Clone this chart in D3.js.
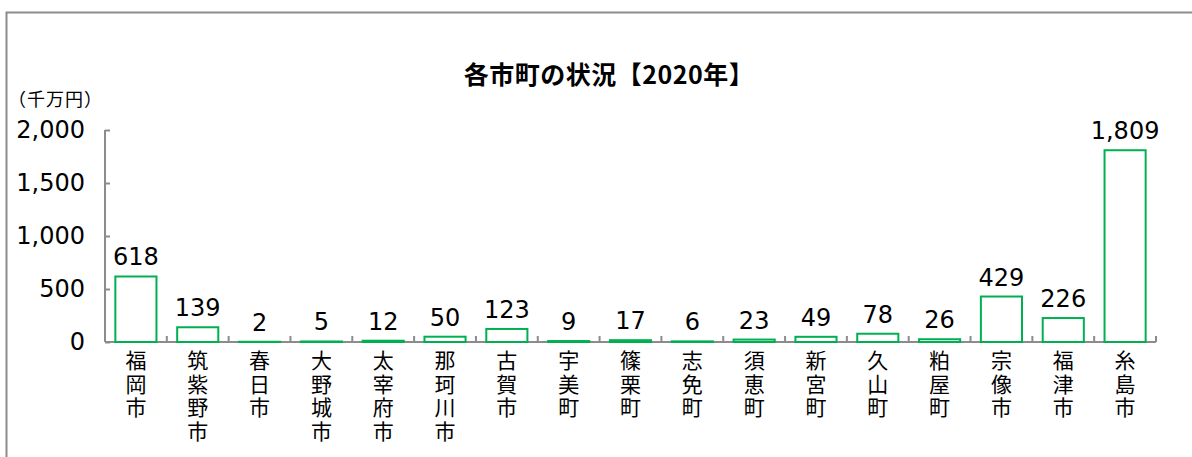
<!DOCTYPE html>
<html>
<head>
<meta charset="utf-8">
<script src="https://cdn.jsdelivr.net/npm/d3@7"></script>
<style>
    body { margin: 0; background: #fff; }
    svg text { font-family: "DejaVu Sans", "Noto Sans CJK JP", sans-serif; fill: #000; }
</style>
</head>
<body>
<div id="chart"></div>
<script>
// 各市町の状況 bar chart
const cities = ["福岡市", "筑紫野市", "春日市", "大野城市", "太宰府市", "那珂川市", "古賀市", "宇美町", "篠栗町",
    "志免町", "須恵町", "新宮町", "久山町", "粕屋町", "宗像市", "福津市", "糸島市"];
const values = [618, 139, 2, 5, 12, 50, 123, 9, 17, 6, 23, 49, 78, 26, 429, 226, 1809];
const yTicks = [0, 500, 1000, 1500, 2000];

const W = 1192, H = 457;
const margin = { top: 130, right: 36, bottom: 115, left: 105 };
const plotW = W - margin.left - margin.right;
const plotH = H - margin.top - margin.bottom;

const svg = d3.select("#chart").append("svg")
    .attr("width", W)
    .attr("height", H);

// outer frame (only top and left edges visible)
svg.append("path")
    .attr("d", `M6.5,${H} V12.5 H${W}`)
    .attr("fill", "none")
    .attr("stroke", "#8c8c8c")
    .attr("stroke-width", 2);

svg.append("text")
    .attr("x", 609)
    .attr("y", 84)
    .attr("text-anchor", "middle")
    .style("font-family", "'Noto Sans CJK JP', sans-serif")
    .style("font-weight", "bold")
    .style("font-size", "25px")
    .style("letter-spacing", "0.5px")
    .text("各市町の状況【2020年】");

svg.append("text")
    .attr("x", 8)
    .attr("y", 106)
    .style("font-family", "'Noto Sans CJK JP', sans-serif")
    .style("font-size", "18px")
    .style("letter-spacing", "1px")
    .text("（千万円）");

const g = svg.append("g").attr("transform", `translate(${margin.left},${margin.top})`);

const x = d3.scaleBand().domain(cities).range([0, plotW]).paddingInner(0.335).paddingOuter(0.1675);
const y = d3.scaleLinear().domain([0, 2000]).range([plotH, 0]);

// y axis, ticks pointing inward
const yAxis = g.append("g").call(d3.axisLeft(y).tickValues(yTicks).tickSize(-5).tickPadding(20)
    .tickFormat(d3.format(",")));
yAxis.selectAll("path, line").attr("stroke", "#8c8c8c").attr("stroke-width", 2);
yAxis.select(".domain").attr("d", `M0,${plotH}V0`);
yAxis.selectAll("text").style("font-size", "24px").attr("fill", "#000");

// x axis with ticks at category boundaries
g.append("line")
    .attr("x1", 0).attr("x2", plotW)
    .attr("y1", plotH).attr("y2", plotH)
    .attr("stroke", "#8c8c8c").attr("stroke-width", 2);
const step = x.step();
g.selectAll(".xtick")
    .data(d3.range(cities.length + 1))
    .enter().append("line")
    .attr("x1", i => i * step).attr("x2", i => i * step)
    .attr("y1", plotH).attr("y2", plotH - 6)
    .attr("stroke", "#8c8c8c").attr("stroke-width", 2);

// bars
g.selectAll(".bar")
    .data(values)
    .enter().append("rect")
    .attr("x", (d, i) => x(cities[i]))
    .attr("y", d => y(d))
    .attr("width", x.bandwidth())
    .attr("height", d => plotH - y(d))
    .attr("fill", "#fff")
    .attr("stroke", "#00b050")
    .attr("stroke-width", 2);

// value labels
g.selectAll(".val")
    .data(values)
    .enter().append("text")
    .attr("x", (d, i) => x(cities[i]) + x.bandwidth() / 2)
    .attr("y", d => y(d) - 11)
    .attr("text-anchor", "middle")
    .style("font-size", "24px")
    .text(d => d3.format(",")(d));

// vertical category labels
g.selectAll(".cat")
    .data(cities)
    .enter().append("text")
    .attr("x", d => x(d) + x.bandwidth() / 2)
    .attr("y", plotH + 8)
    .style("writing-mode", "vertical-rl")
    .style("text-orientation", "upright")
    .style("font-family", "'Noto Sans CJK JP', sans-serif")
    .style("font-size", "21px")
    .style("letter-spacing", "2.5px")
    .text(d => d);
</script>
</body>
</html>
